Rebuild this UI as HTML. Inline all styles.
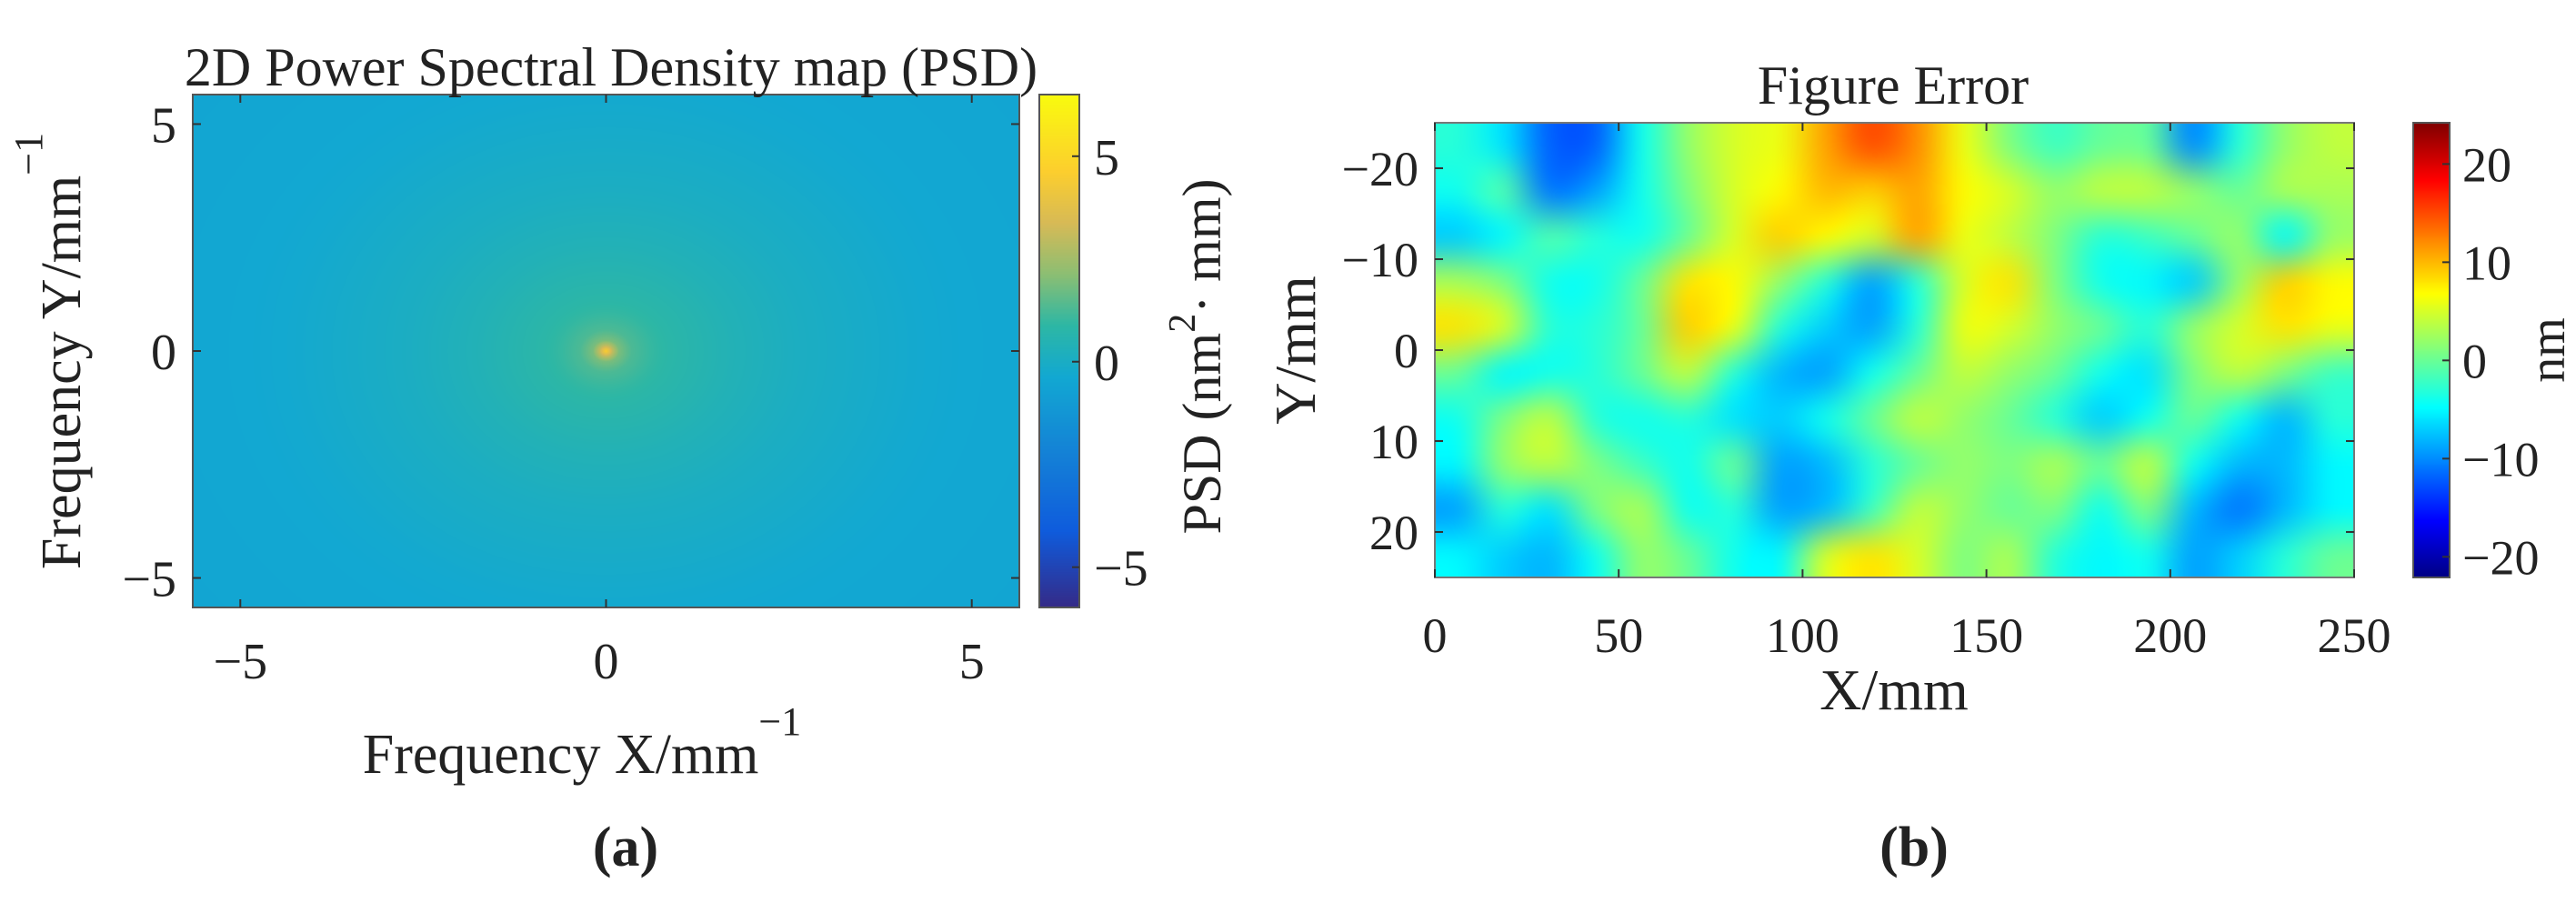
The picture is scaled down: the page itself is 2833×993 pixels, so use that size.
<!DOCTYPE html>
<html><head><meta charset="utf-8">
<style>
html,body{margin:0;padding:0;background:#fff;}
#wrap{position:relative;width:2833px;height:993px;overflow:hidden;background:#fff;}
canvas{position:absolute;}
svg{position:absolute;left:0;top:0;}
text{font-family:"Liberation Serif",serif;fill:#222;}
</style></head>
<body>
<div id="wrap">
<canvas id="cA" style="left:212px;top:104px" width="909" height="564"></canvas>
<canvas id="cAbar" style="left:1143px;top:104px" width="44" height="564"></canvas>
<canvas id="cB" style="left:1578px;top:135px" width="1011" height="500"></canvas>
<canvas id="cBbar" style="left:2654px;top:135px" width="40" height="500"></canvas>
<svg id="ov" width="2833" height="993"></svg>
</div>
<script>
// ---- Panel (a) data: radial PSD profile ----
const psdRadius = [0, 0.1, 0.2, 0.4, 0.7, 1.0, 1.5, 2.0, 3.0, 4.0, 5.0, 6.0, 8.0];
const psdValue  = [4.6, 3.0, 1.9, 1.3, 1.0, 0.8, 0.6, 0.4, 0.1, -0.1, -0.3, -0.4, -0.5];
const psdXTicks = [-5, 0, 5];
const psdYTicks = [-5, 0, 5];
const psdCTicks = [-5, 0, 5];
// ---- Panel (b) data: figure error grid (rows top->bottom, Y -25..25) ----
const errRow0 = [-3,-6,-12,-12,-4,2,5,6,11,15,12,6,1,-2,0,0,-10,-3,2,4];
const errRow1 = [-4,-1,-11,-9,-4,1,5,7,10,9,11,7,5,2,4,4,2,0,3,3];
const errRow2 = [-7,-5,-1,-3,-4,0,5,9,7,5,11,6,4,1,-3,-2,0,2,-5,2];
const errRow3 = [3,1,-4,-4,0,8,7,2,-3,-9,-3,5,8,1,-4,-5,-7,2,9,7];
const errRow4 = [8,5,-3,-3,0,9,6,-3,-7,-9,-3,6,5,2,0,-3,2,5,8,6];
const errRow5 = [0,-5,-4,-3,0,4,-3,-8,-9,-4,0,4,2,0,-4,-6,1,4,1,-2];
const errRow6 = [-4,1,4,-3,-4,-3,-6,-7,-4,0,4,2,0,-3,-7,-4,0,-4,-8,-3];
const errRow7 = [-5,2,4,1,-2,-4,0,-9,-8,-3,0,2,1,3,0,4,-4,-8,-8,-5];
const errRow8 = [-9,-3,-6,1,3,-4,-3,-9,-8,-2,4,2,0,1,-4,1,-8,-11,-8,-5];
const errRow9 = [-5,-7,-8,-4,2,0,-4,-5,5,8,5,1,3,-3,-5,-4,-9,-7,-3,0];
const errXTicks = [0, 50, 100, 150, 200, 250];
const errYTicks = [-20, -10, 0, 10, 20];
const errCTicks = [-20, -10, 0, 10, 20];

const errGrid = [errRow0,errRow1,errRow2,errRow3,errRow4,errRow5,errRow6,errRow7,errRow8,errRow9];

// geometry
const A = {x0:212, x1:1121, y0:104, y1:668, xmin:-5.65, xmax:5.65, ymin:-5.65, ymax:5.65, cmin:-5.98, cmax:6.5};
const B = {x0:1578, x1:2589, y0:135, y1:635, xmin:0, xmax:250, ymin:-25, ymax:25, cmin:-22.1, cmax:24.2};
const axA = v => A.x0 + (v - A.xmin)/(A.xmax-A.xmin)*(A.x1-A.x0);
const ayA = v => A.y1 - (v - A.ymin)/(A.ymax-A.ymin)*(A.y1-A.y0);
const acA = v => A.y1 - (v - A.cmin)/(A.cmax-A.cmin)*(A.y1-A.y0);
const axB = v => B.x0 + (v - B.xmin)/(B.xmax-B.xmin)*(B.x1-B.x0);
const ayB = v => B.y0 + (v - B.ymin)/(B.ymax-B.ymin)*(B.y1-B.y0);
const acB = v => B.y1 - (v - B.cmin)/(B.cmax-B.cmin)*(B.y1-B.y0);

function lerpStops(stops, t){
  t = Math.max(0, Math.min(1, t));
  for (let i=1;i<stops.length;i++){
    if (t <= stops[i][0]){
      const a=stops[i-1], b=stops[i], f=(t-a[0])/(b[0]-a[0]||1);
      return [0,1,2].map(k=>Math.round(a[1][k]+(b[1][k]-a[1][k])*f));
    }
  }
  return stops[stops.length-1][1];
}
const parula = [[0,[53,42,135]],[0.15,[15,92,221]],[0.3,[20,129,214]],[0.45,[18,168,210]],[0.55,[45,183,165]],[0.65,[140,190,115]],[0.75,[215,186,86]],[0.85,[252,206,46]],[1,[249,251,14]]];
const jet = [[0,[0,0,131]],[0.125,[0,0,255]],[0.375,[0,255,255]],[0.625,[255,255,0]],[0.875,[255,0,0]],[1,[128,0,0]]];

function psdAt(r){
  for (let i=1;i<psdRadius.length;i++){
    if (r <= psdRadius[i]){
      const f=(r-psdRadius[i-1])/(psdRadius[i]-psdRadius[i-1]);
      return psdValue[i-1]+(psdValue[i]-psdValue[i-1])*f;
    }
  }
  return psdValue[psdValue.length-1];
}
// panel a heatmap
(function(){
  const c=document.getElementById('cA'), ctx=c.getContext('2d');
  const W=c.width,H=c.height, img=ctx.createImageData(W,H);
  for (let py=0;py<H;py++){
    const fy = A.ymax - (py+0.5)/H*(A.ymax-A.ymin);
    for (let px=0;px<W;px++){
      const fx = A.xmin + (px+0.5)/W*(A.xmax-A.xmin);
      const r = Math.sqrt(fx*fx*1.3 + fy*fy*0.75);
      const col = lerpStops(parula,(psdAt(r)-A.cmin)/(A.cmax-A.cmin));
      const o=(py*W+px)*4; img.data[o]=col[0];img.data[o+1]=col[1];img.data[o+2]=col[2];img.data[o+3]=255;
    }
  }
  ctx.putImageData(img,0,0);
  const cb=document.getElementById('cAbar'), bx=cb.getContext('2d');
  for (let y=0;y<cb.height;y++){const col=lerpStops(parula,1-y/cb.height);bx.fillStyle=`rgb(${col})`;bx.fillRect(0,y,cb.width,1);}
})();
// panel b heatmap
(function(){
  const nc=errGrid[0].length, nr=errGrid.length;
  const s=document.createElement('canvas'); s.width=nc; s.height=nr;
  const sx=s.getContext('2d'), img=sx.createImageData(nc,nr);
  for (let r=0;r<nr;r++) for (let k=0;k<nc;k++){
    const col=lerpStops(jet,(errGrid[r][k]-B.cmin)/(B.cmax-B.cmin));
    const o=(r*nc+k)*4; img.data[o]=col[0];img.data[o+1]=col[1];img.data[o+2]=col[2];img.data[o+3]=255;
  }
  sx.putImageData(img,0,0);
  const c=document.getElementById('cB'), ctx=c.getContext('2d');
  ctx.imageSmoothingEnabled=true; ctx.imageSmoothingQuality='high';
  ctx.drawImage(s,0,0,c.width,c.height);
  const cb=document.getElementById('cBbar'), bx=cb.getContext('2d');
  for (let y=0;y<cb.height;y++){const col=lerpStops(jet,1-y/cb.height);bx.fillStyle=`rgb(${col})`;bx.fillRect(0,y,cb.width,1);}
})();

// overlay
const NS='http://www.w3.org/2000/svg', ov=document.getElementById('ov');
function el(tag, attrs, txt){const e=document.createElementNS(NS,tag);for(const k in attrs)e.setAttribute(k,attrs[k]);if(txt!==undefined)e.textContent=txt;ov.appendChild(e);return e;}
function lbl(s){return String(s).replace('-','\u2212');}

// frames
let f;
f=el('rect',{x:A.x0,y:A.y0,width:A.x1-A.x0,height:A.y1-A.y0,fill:'none',stroke:'#555','stroke-width':2});


f=el('rect',{x:1143,y:A.y0,width:44,height:A.y1-A.y0,fill:'none',stroke:'#555','stroke-width':2});


f=el('rect',{x:B.x0,y:B.y0,width:B.x1-B.x0,height:B.y1-B.y0,fill:'none',stroke:'#777','stroke-width':2});


f=el('rect',{x:2654,y:B.y0,width:40,height:B.y1-B.y0,fill:'none',stroke:'#555','stroke-width':2});



// panel a ticks
psdXTicks.forEach(v=>{
  const x=axA(v);
  el('line',{x1:x,y1:A.y1,x2:x,y2:A.y1-9,stroke:'#333','stroke-width':2});
  el('line',{x1:x,y1:A.y0,x2:x,y2:A.y0+9,stroke:'#333','stroke-width':2});
  const t=el('text',{x:x,y:ayA(A.ymin)+78,'font-size':56,'text-anchor':'middle'},lbl(v));
  
  
});
psdYTicks.forEach(v=>{
  const y=ayA(v);
  el('line',{x1:A.x0,y1:y,x2:A.x0+9,y2:y,stroke:'#333','stroke-width':2});
  el('line',{x1:A.x1,y1:y,x2:A.x1-9,y2:y,stroke:'#333','stroke-width':2});
  const t=el('text',{x:A.x0-18,y:y+20,'font-size':56,'text-anchor':'end'},lbl(v));
  
  
});
psdCTicks.forEach(v=>{
  const y=acA(v);
  el('line',{x1:1187,y1:y,x2:1179,y2:y,stroke:'#333','stroke-width':2});
  const t=el('text',{x:1203,y:y+20,'font-size':56},lbl(v));
  
  
});
// panel b ticks
errXTicks.forEach(v=>{
  const x=axB(v);
  el('line',{x1:x,y1:B.y1,x2:x,y2:B.y1-9,stroke:'#333','stroke-width':2});
  el('line',{x1:x,y1:B.y0,x2:x,y2:B.y0+9,stroke:'#333','stroke-width':2});
  const t=el('text',{x:x,y:B.y1+82,'font-size':54,'text-anchor':'middle'},lbl(v));
  
  
});
errYTicks.forEach(v=>{
  const y=ayB(v);
  el('line',{x1:B.x0,y1:y,x2:B.x0+9,y2:y,stroke:'#333','stroke-width':2});
  el('line',{x1:B.x1,y1:y,x2:B.x1-9,y2:y,stroke:'#333','stroke-width':2});
  const t=el('text',{x:B.x0-18,y:y+19,'font-size':54,'text-anchor':'end'},lbl(v));
  
  
});
errCTicks.forEach(v=>{
  const y=acB(v);
  el('line',{x1:2694,y1:y,x2:2686,y2:y,stroke:'#333','stroke-width':2});
  const t=el('text',{x:2708,y:y+19,'font-size':54},lbl(v));
  
  
});
</script>
<svg width="2833" height="993" style="position:absolute;left:0;top:0;pointer-events:none">
  <text x="672" y="94" font-size="60" text-anchor="middle">2D Power Spectral Density map (PSD)</text>
  <text x="640" y="850" font-size="62" text-anchor="middle">Frequency X/mm<tspan dy="-42" font-size="44">−1</tspan></text>
  <text transform="translate(88,386) rotate(-90)" font-size="62" text-anchor="middle">Frequency Y/mm<tspan dy="-42" font-size="44">−1</tspan></text>
  <text transform="translate(1342,392) rotate(-90)" font-size="60" text-anchor="middle">PSD (nm<tspan dy="-28" font-size="42">2</tspan><tspan dy="28">· mm)</tspan></text>
  <text x="2082" y="114" font-size="60" text-anchor="middle">Figure Error</text>
  <text x="2083" y="780" font-size="64" text-anchor="middle">X/mm</text>
  <text transform="translate(1446,385) rotate(-90)" font-size="64" text-anchor="middle">Y/mm</text>
  <text transform="translate(2820,385) rotate(-90)" font-size="56" text-anchor="middle">nm</text>
  <text x="688" y="952" font-size="62" font-weight="bold" text-anchor="middle">(a)</text>
  <text x="2105" y="952" font-size="62" font-weight="bold" text-anchor="middle">(b)</text>
</svg>
</body></html>
